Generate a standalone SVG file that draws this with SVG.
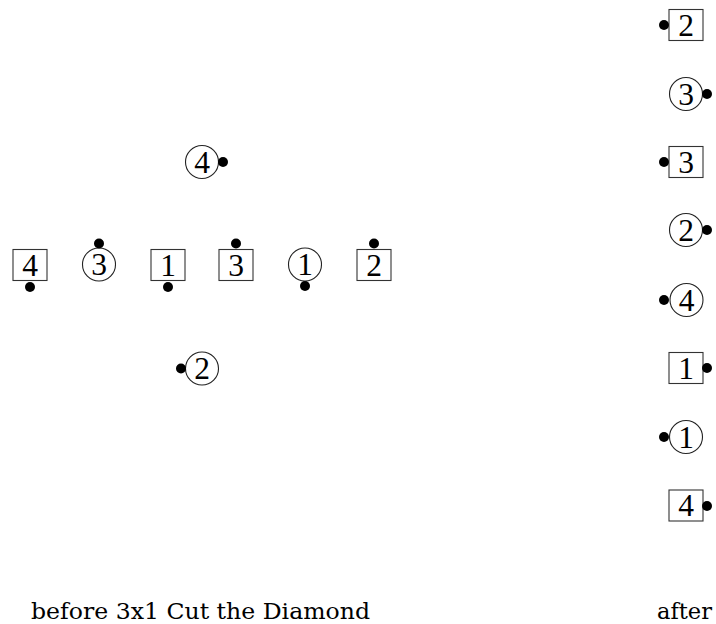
<svg xmlns="http://www.w3.org/2000/svg" width="716" height="624" viewBox="0 0 716 624">
<style>
  .bx { fill: #fff; stroke: #333; stroke-width: 1.1; }
  .cr { fill: #fff; stroke: #222; stroke-width: 1.1; }
  .lb { font-family: "Liberation Serif", "Times New Roman", serif; font-size: 31.5px; fill: #000; text-anchor: middle; }
  .dot { fill: #000; }
  .cap { font-family: "DejaVu Serif", "Liberation Serif", serif; font-size: 23px; fill: #000; }
</style>
<rect width="716" height="624" fill="#fff"/>
<g id="connectors"></g>
<!-- before: diamond -->
<g id="b-c4"><circle class="cr" cx="202" cy="162" r="16.5"/><text class="lb" x="202" y="172.5">4</text><circle class="dot" cx="223" cy="162" r="5"/></g>
<g id="b-s4"><rect class="bx" x="13" y="249.5" width="34" height="31"/><text class="lb" x="30" y="275.5">4</text><circle class="dot" cx="30" cy="287" r="5"/></g>
<g id="b-c3"><circle class="cr" cx="99" cy="264.5" r="16.5"/><text class="lb" x="99" y="275">3</text><circle class="dot" cx="99" cy="243.5" r="5"/></g>
<g id="b-s1"><rect class="bx" x="151" y="249.5" width="34" height="31"/><text class="lb" x="168" y="275.5">1</text><circle class="dot" cx="168" cy="287" r="5"/></g>
<g id="b-s3"><rect class="bx" x="219" y="249.5" width="34" height="31"/><text class="lb" x="236" y="275.5">3</text><circle class="dot" cx="236" cy="243.5" r="5"/></g>
<g id="b-c1"><circle class="cr" cx="305" cy="264.5" r="16.5"/><text class="lb" x="305" y="275">1</text><circle class="dot" cx="305" cy="286" r="5"/></g>
<g id="b-s2"><rect class="bx" x="357" y="249.5" width="34" height="31"/><text class="lb" x="374" y="275.5">2</text><circle class="dot" cx="374" cy="243.5" r="5"/></g>
<g id="b-c2"><circle class="cr" cx="202" cy="368.5" r="16.5"/><text class="lb" x="202" y="379">2</text><circle class="dot" cx="181" cy="368.5" r="5"/></g>
<!-- after: column -->
<g id="a-s2"><rect class="bx" x="669" y="9.5" width="34" height="31"/><text class="lb" x="686" y="35.5">2</text><circle class="dot" cx="664" cy="25" r="5"/></g>
<g id="a-c3"><circle class="cr" cx="686" cy="94" r="16.5"/><text class="lb" x="686" y="104.5">3</text><circle class="dot" cx="707" cy="94" r="5"/></g>
<g id="a-s3"><rect class="bx" x="669" y="146.5" width="34" height="31"/><text class="lb" x="686" y="172.5">3</text><circle class="dot" cx="664" cy="162" r="5"/></g>
<g id="a-c2"><circle class="cr" cx="686" cy="230" r="16.5"/><text class="lb" x="686" y="240.5">2</text><circle class="dot" cx="707" cy="230" r="5"/></g>
<g id="a-c4"><circle class="cr" cx="686.5" cy="300" r="16.5"/><text class="lb" x="686.5" y="310.5">4</text><circle class="dot" cx="664" cy="300" r="5"/></g>
<g id="a-s1"><rect class="bx" x="669" y="352.5" width="34" height="31"/><text class="lb" x="686" y="378.5">1</text><circle class="dot" cx="707" cy="368" r="5"/></g>
<g id="a-c1"><circle class="cr" cx="686" cy="437" r="16.5"/><text class="lb" x="686" y="447.5">1</text><circle class="dot" cx="664" cy="437" r="5"/></g>
<g id="a-s4"><rect class="bx" x="669" y="490" width="34" height="31"/><text class="lb" x="686" y="516">4</text><circle class="dot" cx="707" cy="506" r="5"/></g>
<!-- captions -->
<text class="cap" x="31" y="619" textLength="339" lengthAdjust="spacingAndGlyphs">before 3x1 Cut the Diamond</text>
<text class="cap" x="657" y="619" textLength="55" lengthAdjust="spacingAndGlyphs">after</text>
</svg>
